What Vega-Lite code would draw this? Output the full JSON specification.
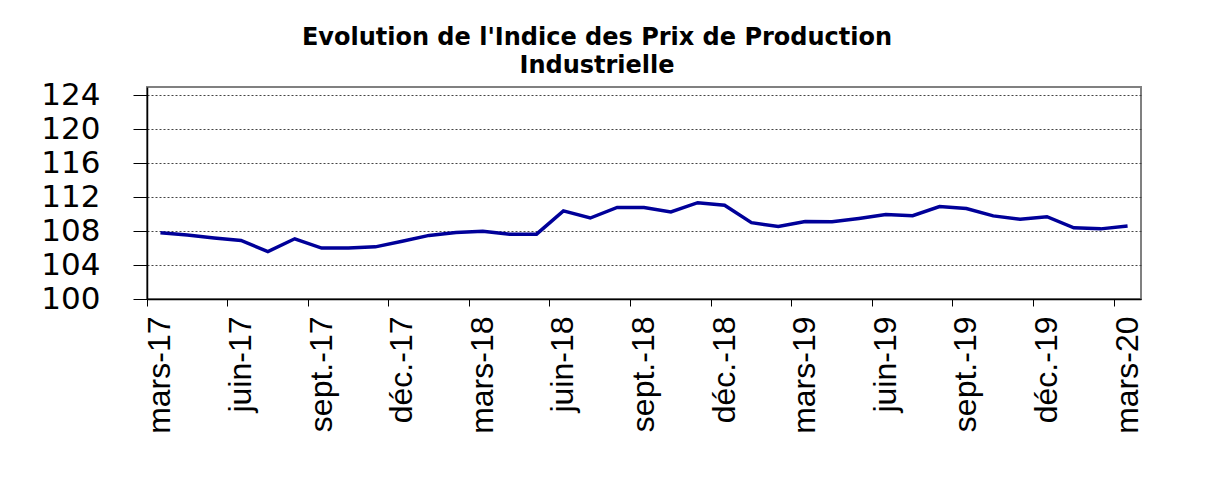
{
  "$schema": "https://vega.github.io/schema/vega-lite/v6.json",
  "autosize": "none",
  "width": 994,
  "height": 212,
  "padding": {"left": 147, "top": 87, "right": 83, "bottom": 191},
  "background": "white",
  "title": {
    "text": ["Evolution de l'Indice des Prix de Production", "Industrielle"],
    "font": "DejaVu Sans",
    "fontWeight": "bold",
    "fontSize": 24,
    "lineHeight": 28,
    "color": "black",
    "anchor": "middle",
    "dx": -47,
    "offset": 1
  },
  "config": {
    "view": {"stroke": "#808080", "strokeWidth": 2},
    "axis": {"domainColor": "black", "tickColor": "black", "labelColor": "black"}
  },
  "data": {
    "values": [
      {"mois": "mars-17", "indice": 107.8},
      {"mois": "avr.-17", "indice": 107.55},
      {"mois": "mai-17", "indice": 107.2},
      {"mois": "juin-17", "indice": 106.9},
      {"mois": "juil.-17", "indice": 105.6},
      {"mois": "août-17", "indice": 107.1},
      {"mois": "sept.-17", "indice": 106.0},
      {"mois": "oct.-17", "indice": 106.0},
      {"mois": "nov.-17", "indice": 106.15},
      {"mois": "déc.-17", "indice": 106.8},
      {"mois": "janv.-18", "indice": 107.5},
      {"mois": "févr.-18", "indice": 107.85},
      {"mois": "mars-18", "indice": 108.0},
      {"mois": "avr.-18", "indice": 107.65},
      {"mois": "mai-18", "indice": 107.65},
      {"mois": "juin-18", "indice": 110.4},
      {"mois": "juil.-18", "indice": 109.55},
      {"mois": "août-18", "indice": 110.8},
      {"mois": "sept.-18", "indice": 110.8},
      {"mois": "oct.-18", "indice": 110.27},
      {"mois": "nov.-18", "indice": 111.36},
      {"mois": "déc.-18", "indice": 111.06},
      {"mois": "janv.-19", "indice": 109.0},
      {"mois": "févr.-19", "indice": 108.54},
      {"mois": "mars-19", "indice": 109.13},
      {"mois": "avr.-19", "indice": 109.1},
      {"mois": "mai-19", "indice": 109.5},
      {"mois": "juin-19", "indice": 109.95},
      {"mois": "juil.-19", "indice": 109.83},
      {"mois": "août-19", "indice": 110.9},
      {"mois": "sept.-19", "indice": 110.66},
      {"mois": "oct.-19", "indice": 109.8},
      {"mois": "nov.-19", "indice": 109.41},
      {"mois": "déc.-19", "indice": 109.7},
      {"mois": "janv.-20", "indice": 108.39},
      {"mois": "févr.-20", "indice": 108.27},
      {"mois": "mars-20", "indice": 108.6}
    ]
  },
  "mark": {"type": "line", "color": "#000099", "strokeWidth": 3.5, "strokeJoin": "miter"},
  "encoding": {
    "x": {
      "field": "mois",
      "type": "ordinal",
      "sort": null,
      "bandPosition": 0.5,
      "scale": {"type": "band", "paddingInner": 0, "paddingOuter": 0},
      "axis": {
        "title": null,
        "values": ["mars-17", "juin-17", "sept.-17", "déc.-17", "mars-18", "juin-18", "sept.-18", "déc.-18", "mars-19", "juin-19", "sept.-19", "déc.-19", "mars-20"],
        "bandPosition": 0,
        "labelOffset": 0,
        "labelAngle": -90,
        "labelAlign": "right",
        "labelBaseline": "middle",
        "labelFont": "Liberation Sans Narrow, Liberation Sans",
        "labelFontSize": 32,
        "labelPadding": 10,
        "tickSize": 7,
        "domainWidth": 1.5,
        "grid": false,
        "labelOverlap": false
      }
    },
    "y": {
      "field": "indice",
      "type": "quantitative",
      "scale": {"domain": [100, 125], "nice": false, "zero": false},
      "axis": {
        "title": null,
        "values": [100, 104, 108, 112, 116, 120, 124],
        "labelFont": "DejaVu Sans",
        "labelFontSize": 31,
        "labelPadding": 33,
        "tickSize": 14,
        "domainWidth": 1.5,
        "grid": true,
        "gridColor": "#444444",
        "gridDash": [2, 2],
        "gridWidth": 1,
        "labelOverlap": false
      }
    }
  }
}
